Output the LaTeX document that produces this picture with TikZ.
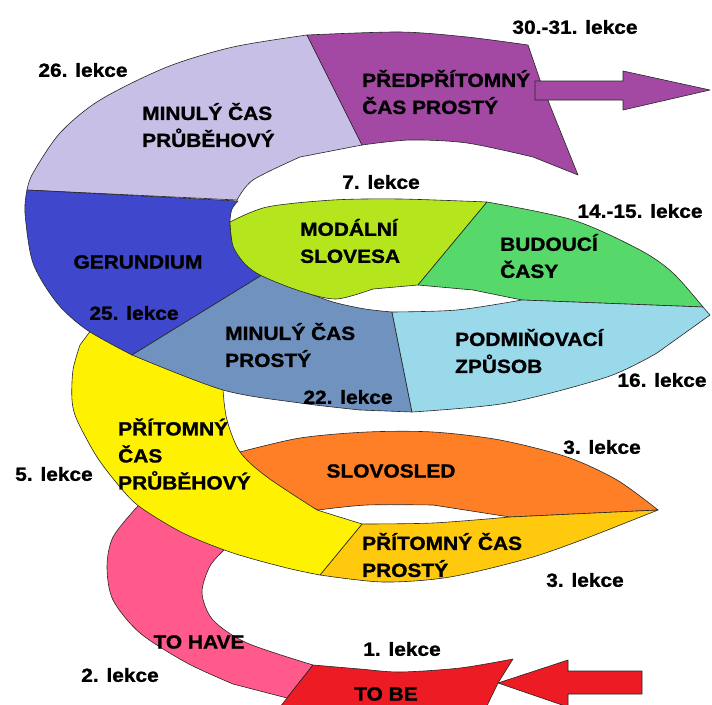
\documentclass[tikz,border=0pt]{standalone}
\usepackage{fontspec}
\setmainfont[FakeStretch=1.1, BoldFeatures={FakeBold=1.2}]{Liberation Sans}
\definecolor{pinkc}{HTML}{FF5A8B}
\definecolor{redc}{HTML}{ED1C24}
\definecolor{orangec}{HTML}{FF7F27}
\definecolor{goldc}{HTML}{FFC90E}
\definecolor{yellowc}{HTML}{FFF200}
\definecolor{lilacc}{HTML}{C8BFE7}
\definecolor{purplec}{HTML}{A349A4}
\definecolor{indigoc}{HTML}{3F48CC}
\definecolor{steelc}{HTML}{7092BE}
\definecolor{limec}{HTML}{B5E61D}
\definecolor{greenc}{HTML}{57D86A}
\definecolor{skyc}{HTML}{99D9EA}

\begin{document}
\begin{tikzpicture}[
    x=1pt, y=-1pt,
    seg/.style={draw=black!85, line width=0.6pt, line join=round},
    lab/.style={font=\fontsize{19}{27}\selectfont\bfseries, align=left, inner sep=0pt},
    lekce/.style={font=\fontsize{19}{23}\selectfont\bfseries, inner sep=0pt}]

\clip (0,0) rectangle (712,704);

% Bottom turn
\draw[seg, fill=pinkc] (236,532) -- plot[smooth] coordinates {(226,548) (210,566) (202,593) (213,620) (247,643) (313,665)}
    -- (287,698) -- plot[smooth] coordinates {(233,684) (187,663) (140,633) (113,600) (107,567) (113,537) (137,507)}
    -- (150,492) -- cycle;
\draw[seg, fill=redc] plot[smooth] coordinates {(313,665) (360,669) (400,672) (460,668) (513,659)}
    -- (498,683) -- (484,712) -- (276,712) -- cycle;
\draw[seg, fill=redc] (498,683) -- (568,660) -- (568,671) -- (642,671) -- (642,694) -- (568,694) -- (568,707) -- cycle;

% Second turn
\draw[seg, fill=orangec] (225,470) -- plot[smooth] coordinates {(240,452) (300,438) (367,432) (433,432) (500,440) (567,457) (617,480) (658,510)}
    -- (510,517) -- plot[smooth] coordinates {(433,505) (367,505) (318,510)} -- (282,495) -- cycle;
\draw[seg, fill=goldc] plot[smooth] coordinates {(362,524) (433,523) (510,517)} -- (658,510)
    -- plot[smooth] coordinates {(600,533) (533,557) (450,577) (383,582) (320,575)} -- cycle;
\draw[seg, fill=yellowc] (100,318) -- plot[smooth] coordinates {(80,345) (73,370) (72,400) (77,420) (97,457) (120,487) (140,507) (183,533) (233,553) (287,568) (320,575)}
    -- (362,524) -- plot[smooth] coordinates {(317,510) (267,477) (240,452) (227,420) (223,390) (223,370)} -- cycle;

% Top turn
\draw[seg, fill=lilacc] plot[smooth] coordinates {(27,190) (33,173) (60,133) (100,100) (167,67) (233,47) (307,35)}
    -- (362,145) -- plot[smooth] coordinates {(300,157) (253,180) (237,200)} -- cycle;
\draw[seg, fill=purplec] plot[smooth] coordinates {(307,35) (400,32) (467,37) (528,45)}
    -- plot[smooth] coordinates {(540,80) (553,113) (578,175)}
    -- plot[smooth] coordinates {(533,157) (467,143) (410,140) (362,145)} -- cycle;
\draw[seg, fill=purplec] (535,81) -- (623,81) -- (623,71) -- (710,90) -- (623,110) -- (623,100) -- (535,100) -- cycle;

% Middle turn
\draw[seg, fill=indigoc] plot[smooth] coordinates {(27,190) (25,213) (33,263) (57,303) (87,330) (132,355)}
    -- (262,275) -- plot[smooth] coordinates {(245,262) (232,240) (230,222) (232,209) (238,201)} -- cycle;
\draw[seg, fill=steelc] plot[smooth] coordinates {(262,275) (300,290) (333,302) (365,309) (392,312)}
    -- (412,412) -- plot[smooth] coordinates {(360,410) (300,403) (223,390) (132,355)} -- cycle;
\draw[seg, fill=limec] plot[smooth] coordinates {(230,222) (267,207) (333,200) (400,199) (487,202)}
    -- (418,285) -- plot[smooth] coordinates {(373,289) (336,299) (300,291) (262,276) (245,264) (233,246) (230,222)} -- cycle;
\draw[seg, fill=greenc] plot[smooth] coordinates {(487,202) (573,220) (640,250) (673,273) (703,307)}
    -- (522,300) -- plot[smooth] coordinates {(473,290) (418,285)} -- cycle;
\draw[seg, fill=skyc] plot[smooth] coordinates {(392,312) (457,310) (522,300)} -- (703,307) -- (710,315)
    -- plot[smooth] coordinates {(657,353) (607,377) (507,403) (412,412)} -- cycle;

% Labels
\node[lab, anchor=west] (mcpr) at (142,125) {MINULÝ ČAS\\PRŮBĚHOVÝ};
\node[lab, anchor=west] (ppcp) at (362,92) {PŘEDPŘÍTOMNÝ\\ČAS PROSTÝ};
\node[lab, anchor=west] (modal) at (300,241) {MODÁLNÍ\\SLOVESA};
\node[lab, anchor=west] (budouci) at (500,256) {BUDOUCÍ\\ČASY};
\node[lab] (gerund) at (138,262) {GERUNDIUM};
\node[lab, anchor=west] (mcp) at (225,345) {MINULÝ ČAS\\PROSTÝ};
\node[lab, anchor=west] (podm) at (455,351) {PODMIŇOVACÍ\\ZPŮSOB};
\node[lab, anchor=west] (pcpr) at (118,454) {PŘÍTOMNÝ\\ČAS\\PRŮBĚHOVÝ};
\node[lab] (slovosled) at (391,471) {SLOVOSLED};
\node[lab, anchor=west] (pcp) at (362,555) {PŘÍTOMNÝ ČAS\\PROSTÝ};
\node[lab] (tohave) at (199,642) {TO HAVE};
\node[lab] (tobe) at (386,694) {TO BE};

% Lessons
\node[lekce] (l30) at (575,27) {30.-31. lekce};
\node[lekce] (l26) at (83,70) {26. lekce};
\node[lekce] (l7) at (381,182) {7. lekce};
\node[lekce] (l14) at (640,211) {14.-15. lekce};
\node[lekce] (l25) at (134,313) {25. lekce};
\node[lekce] (l16) at (662,380) {16. lekce};
\node[lekce] (l22) at (348,397) {22. lekce};
\node[lekce] (l5) at (54,474) {5. lekce};
\node[lekce] (l3a) at (602,447) {3. lekce};
\node[lekce] (l3b) at (585,580) {3. lekce};
\node[lekce] (l2) at (120,675) {2. lekce};
\node[lekce] (l1) at (402,649) {1. lekce};

\end{tikzpicture}
\end{document}
